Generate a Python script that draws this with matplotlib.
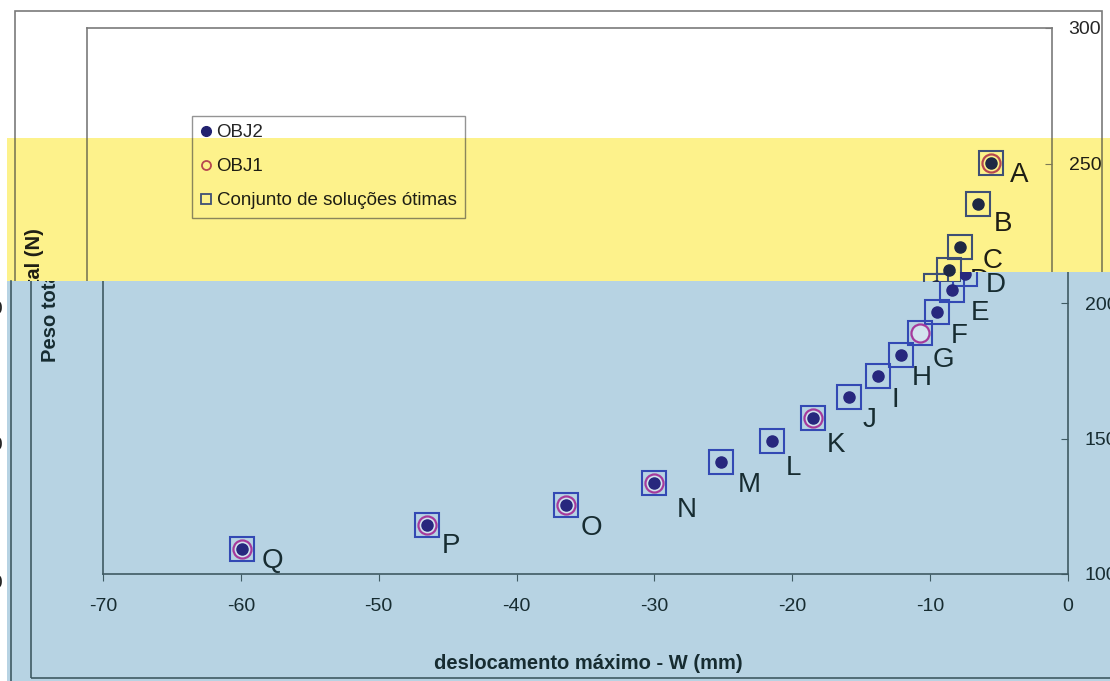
import matplotlib
matplotlib.use("Agg")
import matplotlib.pyplot as plt
from matplotlib.patches import Rectangle
from matplotlib.lines import Line2D
from matplotlib.transforms import Bbox, TransformedBbox

plt.rcParams['font.family'] = ['Liberation Sans', 'DejaVu Sans']
plt.rcParams['axes.unicode_minus'] = False

# conjunto de soluções (deslocamento máximo W em mm, peso total em N)
labels = ['A', 'B', 'C', 'D', 'E', 'F', 'G', 'H', 'I', 'J', 'K', 'L', 'M', 'N', 'O', 'P', 'Q']
desloc = [-4.4, -5.4, -6.7, -7.5, -8.4, -9.5, -10.7, -12.1, -13.8, -15.9, -18.5, -21.5,
          -25.2, -30.0, -36.4, -46.5, -59.9]
peso = [250.2, 235.1, 219.2, 210.7, 204.8, 196.7, 188.9, 180.8, 173.1, 165.3, 157.6, 149.1,
        141.3, 133.6, 125.5, 118.1, 109.2]
obj1_pts = ['A', 'G', 'K', 'N', 'O', 'P', 'Q']
obj2_pts = ['A', 'B', 'C', 'D', 'E', 'F', 'H', 'I', 'J', 'K', 'L', 'M', 'N', 'O', 'P', 'Q']

x_ticks = [-70, -60, -50, -40, -30, -20, -10, 0]
y_ticks = [100, 150, 200, 250, 300]
legend_labels = ['OBJ2', 'OBJ1', 'Conjunto de soluções ótimas']
xlabel = 'deslocamento máximo - W (mm)'
ylabel = 'Peso total (N)'

# where each letter sits relative to its point (pixels, right / down)
lab_dx = [19, 16, 23, 21, 19, 14, 12, 11, 14, 14, 14, 14, 17, 22, 14, 15, 19]
lab_dy = [19, 27, 21, 18, 30, 31, 34, 30, 31, 30, 34, 34, 30, 34, 30, 28, 19]

W, H = 1110, 681
AX_X, AX_Y, AX_W, AX_H = 87, 28, 965, 542          # inner plot box (px, from top-left)
FR_X, FR_Y, FR_W, FR_H = 15, 11, 1087, 663          # outer chart frame

white = dict(bg='#ffffff', line='#7a7a7a', text='#262626', dot='#22216f', ring='#c2607c',
             ring_face='none', square='#34418c', legend_edge='#7a7a7a')
yellow = dict(bg='#fdf28b', line='#7d7a55', text='#1e1e14', dot='#1f2844', ring='#b7474f',
              ring_face='none', square='#3f5075', legend_edge='#6d6b50')
blue = dict(bg='#b7d3e3', line='#3f5a63', text='#172c31', dot='#27277e', ring='#a63a9c',
            ring_face='#d3e3ee', square='#3349b4', legend_edge='#3f5a63')

fig = plt.figure(figsize=(W / 100, H / 100), dpi=100)


def draw_copy(region, shift, pal):
    x0, y0, x1, y1 = region
    box = Bbox.from_extents(x0 / W, 1 - y1 / H, x1 / W, 1 - y0 / H)
    clip = TransformedBbox(box, fig.transFigure)
    fig.add_artist(Rectangle((box.x0, box.y0), box.width, box.height, transform=fig.transFigure,
                             facecolor=pal['bg'], edgecolor='none', zorder=-1))

    dx, dy = shift
    ax = fig.add_axes([(AX_X + dx) / W, 1 - (AX_Y + AX_H + dy) / H, AX_W / W, AX_H / H])
    ax.set_facecolor('none')

    ax.plot(desloc, peso, ls='none', marker='s', ms=17, mfc='none', mec=pal['square'],
            mew=1.5, zorder=2)
    i1 = [labels.index(p) for p in obj1_pts]
    ax.plot([desloc[i] for i in i1], [peso[i] for i in i1], ls='none', marker='o', ms=13,
            mfc=pal['ring_face'], mec=pal['ring'], mew=1.6, zorder=3)
    i2 = [labels.index(p) for p in obj2_pts]
    ax.plot([desloc[i] for i in i2], [peso[i] for i in i2], ls='none', marker='o', ms=8,
            mfc=pal['dot'], mec=pal['dot'], zorder=4)

    for i, lab in enumerate(labels):
        ax.annotate(lab, (desloc[i], peso[i]), xytext=(lab_dx[i], -lab_dy[i]),
                    textcoords='offset pixels', fontsize=20, color=pal['text'],
                    ha='left', va='baseline')

    ax.set_xlim(-70, 0)
    ax.set_ylim(100, 300)
    ax.set_xticks(x_ticks)
    ax.set_yticks(y_ticks)
    ax.yaxis.tick_right()
    ax.yaxis.set_label_position('left')
    ax.tick_params(axis='x', direction='out', length=5, pad=12, labelsize=14,
                   colors=pal['line'], labelcolor=pal['text'])
    ax.tick_params(axis='y', direction='in', length=5, pad=12, labelsize=14,
                   colors=pal['line'], labelcolor=pal['text'])
    for s in ax.spines.values():
        s.set_color(pal['line'])
        s.set_linewidth(1.2)

    ax.set_xlabel(xlabel, fontsize=14.5, fontweight='bold', color=pal['text'], va='center')
    ax.xaxis.set_label_coords(0.503, -0.165)
    ax.set_ylabel(ylabel, fontsize=14.5, fontweight='bold', color=pal['text'],
                  va='center', ha='center')
    ax.yaxis.set_label_coords(-0.054, 0.511)

    handles = [
        Line2D([], [], ls='none', marker='o', ms=7, mfc=pal['dot'], mec=pal['dot']),
        Line2D([], [], ls='none', marker='o', ms=6.5, mfc='none', mec=pal['ring'], mew=1.3),
        Line2D([], [], ls='none', marker='s', ms=6.5, mfc='none', mec=pal['square'], mew=1.3),
    ]
    leg = ax.legend(handles, legend_labels, loc='upper left', bbox_to_anchor=(0.109, 0.838),
                    borderaxespad=0, fancybox=False, facecolor='none',
                    edgecolor=pal['legend_edge'], fontsize=13.5, handlelength=0.55,
                    handletextpad=0.3, labelspacing=0.9, borderpad=0.45, labelcolor=pal['text'])
    leg.get_frame().set_linewidth(1.0)

    frame = Rectangle(((FR_X + dx) / W, 1 - (FR_Y + FR_H + dy) / H), FR_W / W, FR_H / H,
                      transform=fig.transFigure, fill=False, edgecolor=pal['line'], lw=1.2)
    ax.add_artist(frame)

    ax.xaxis.get_major_ticks()
    ax.yaxis.get_major_ticks()
    for a in ax.findobj():
        if a is ax:
            continue
        a.set_clip_path(None)
        a.set_clip_box(clip)
        a.set_clip_on(True)
    return ax


# top part (white), band (yellow), and the shifted copy underneath (blue)
draw_copy((0, 0, 1110, 138), (0, 0), white)
draw_copy((7, 138, 1110, 272), (0, 0), yellow)
draw_copy((7, 272, 960, 281), (0, 0), yellow)
draw_copy((7, 281, 1110, 681), (16, 4), blue)
draw_copy((960, 272, 1110, 281), (16, 4), blue)

fig.add_artist(Line2D([11 / W, 11 / W], [0, 1 - 281 / H], transform=fig.transFigure,
                      color=blue['line'], lw=1.2, zorder=5))
for t, yy in zip(['200', '150', '100'], [310, 446, 584]):
    fig.text(3 / W, 1 - yy / H, t, ha='right', va='center', fontsize=14, color='#222222')

fig.savefig('out.png', dpi=100)
